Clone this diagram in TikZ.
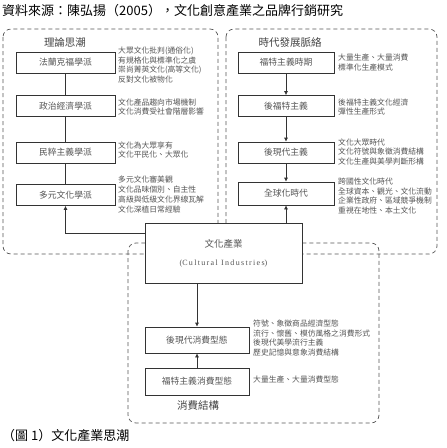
\documentclass[tikz,border=0pt]{standalone}
\usepackage{fontspec}
\setmainfont{Noto Sans CJK TC}
\newfontfamily\latfont{Liberation Serif}
\usetikzlibrary{arrows.meta}
\definecolor{lc}{HTML}{333333}
\definecolor{tc}{HTML}{444444}
\definecolor{nc}{HTML}{555555}
\definecolor{dc}{HTML}{555555}
\begin{document}
\begin{tikzpicture}[x=1pt,y=-1pt,
 box/.style={draw=lc, line width=0.7pt, minimum width=99pt, minimum height=21pt, inner sep=0pt, font=\fontsize{8.8}{10}\selectfont, text=nc, fill=white},
 note/.style={anchor=west, align=left, inner sep=0pt, font=\fontsize{7.8}{9.8}\selectfont, text=nc},
 grp/.style={draw=dc, dash pattern=on 4pt off 3pt, line width=0.7pt, rounded corners=8pt},
 arr/.style={draw=lc, line width=0.7pt, -{Latex[length=4pt,width=4pt]}},
 ln/.style={draw=lc, line width=0.7pt},
 ttl/.style={font=\fontsize{10.5}{12}\selectfont, text=tc, inner sep=0pt}
]
\useasboundingbox[fill=white] (0,0) rectangle (447,448);

\node[anchor=west, inner sep=0pt, font=\fontsize{13}{15}\selectfont] (title) at (2,11) {資料來源：陳弘揚（2005），文化創意產業之品牌行銷研究};

% dashed groups
\draw[grp] (3,29) rectangle (218,254);
\draw[grp] (226,29) rectangle (437,254);
\draw[grp] (128,243) rectangle (379,423);

% group titles
\node[ttl] (t1) at (65,43) {理論思潮};
\node[ttl] (t2) at (290,42) {時代發展脈絡};
\node[ttl] (t3) at (198,406) {消費結構};

% left column
\node[box] (fk) at (65.5,62.5) {法蘭克福學派};
\node[box] (zz) at (65.5,106) {政治經濟學派};
\node[box] (mc) at (65.5,152.5) {民粹主義學派};
\node[box] (dy) at (65.5,195) {多元文化學派};
\draw[ln] (fk) -- (zz);
\draw[ln] (zz) -- (mc);
\draw[ln] (mc) -- (dy);

\node[note] (n1) at (118,65) {大眾文化批判(通俗化)\\有規格化與標準化之虞\\崇尚菁英文化(高等文化)\\反對文化被物化};
\node[note] (n2) at (118,107) {文化產品趨向市場機制\\文化消費受社會階層影響};
\node[note] (n3) at (118,150) {文化為大眾享有\\文化平民化、大眾化};
\node[note] (n4) at (118,194.5) {多元文化審美觀\\文化品味個別、自主性\\高級與低級文化界線瓦解\\文化深植日常經驗};

% right column
\node[box, minimum width=96pt] (r1) at (286,62.5) {福特主義時期};
\node[box, minimum width=96pt] (r2) at (286,106) {後福特主義};
\node[box, minimum width=96pt] (r3) at (286,152.5) {後現代主義};
\node[box, minimum width=96pt, minimum height=23pt] (r4) at (286,193.5) {全球化時代};
\draw[arr] (r1) -- (r2);
\draw[arr] (r2) -- (r3);
\draw[arr] (r3) -- (r4);

\node[note] (m1) at (338,62.5) {大量生產、大量消費\\標準化生產模式};
\node[note] (m2) at (338,107) {後福特主義文化經濟\\彈性生產形式};
\node[note] (m3) at (338,152) {文化大眾時代\\文化符號與象徵消費結構\\文化生產與美學判斷形構};
\node[note] (m4) at (338,196) {跨國性文化時代\\全球資本、觀光、文化流動\\企業性政府、區域競爭機制\\重視在地性、本土文化};

% center box
\node[draw=lc, line width=0.7pt, fill=white, minimum width=157pt, minimum height=60pt, align=center, inner sep=0pt] (ci) at (223.5,253)
 {{\fontsize{9.5}{10}\selectfont\color{nc}文化產業}\\[6pt]{\latfont\fontsize{8}{9}\selectfont\color{nc}(C\,u\,l\,t\,u\,r\,a\,l\ \,I\,n\,d\,u\,s\,t\,r\,i\,e\,s)}};

\draw[arr] ([yshift=20pt]ci.west) -| (dy.south);
\draw[arr] (ci.north -| r4.south) -- (r4.south);

% bottom column
\node[box, minimum width=104pt, minimum height=26pt] (hx) at (197,340) {後現代消費型態};
\node[box, minimum width=104pt, minimum height=27pt] (fx) at (197,381.5) {福特主義消費型態};
\draw[arr] (ci.south -| hx.north) -- (hx.north);
\draw[arr] (fx) -- (hx);

\node[note] (b1) at (253,338) {符號、象徵商品經濟型態\\流行、懷舊、模仿風格之消費形式\\後現代美學流行主義\\歷史記憶與意象消費結構};
\node[note] (b2) at (253,380) {大量生產、大量消費型態};

\node[anchor=west, inner sep=0pt, font=\fontsize{13}{15}\selectfont] (cap) at (2,436) {（圖 1）文化產業思潮};
\end{tikzpicture}
\end{document}
